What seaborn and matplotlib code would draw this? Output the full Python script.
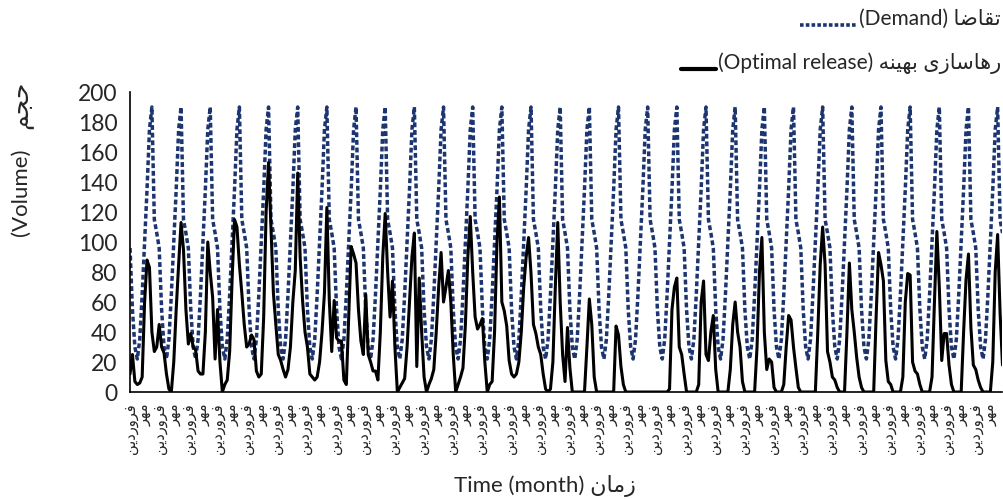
import numpy as np
import pandas as pd
import matplotlib
matplotlib.use("Agg")
import matplotlib.pyplot as plt
import seaborn as sns
from matplotlib.lines import Line2D

sns.set_theme(style="white")
plt.rcParams["font.family"] = ["Lato", "DejaVu Sans"]

# Persian strings are written in visual (shaped, left-to-right) order
FARVARDIN = "\ufee6\ufef3\ufea9\ufead\ufeed\ufeae\ufed3"   # فروردین
MEHR = "\ufeae\ufeec\ufee3"                                  # مهر
HAJM = "\ufee2\ufea0\ufea3"                                  # حجم
ZAMAN = "\ufee5\ufe8e\ufee3\ufeaf"                           # زمان
TAGHAZA = "\ufe8e\ufebf\ufe8e\ufed8\ufe97"                   # تقاضا
RAHASAZI = "\ufeef\ufeaf\ufe8e\ufeb3\ufe8e\ufeeb\ufead"      # رهاسازی
BEHINE = "\ufeea\ufee8\ufef4\ufeec\ufe91"                    # بهینه

# monthly demand, same every year (30 years)
demand_year = [96, 55, 30, 22, 35, 65, 100, 135, 175, 190, 115, 106]
n_years = 30

# optimal release, one list of 12 months per year
release_years = [
    [12, 25, 7, 5, 6, 10, 60, 88, 83, 40, 27, 30],
    [45, 30, 26, 12, 2, 0, 20, 55, 85, 113, 95, 55],
    [32, 39, 30, 28, 14, 12, 12, 40, 100, 80, 63, 22],
    [55, 20, 0, 5, 8, 27, 75, 115, 110, 85, 66, 45],
    [30, 32, 38, 35, 14, 10, 12, 50, 120, 153, 110, 66],
    [45, 25, 21, 15, 10, 15, 30, 60, 81, 146, 90, 61],
    [40, 30, 12, 10, 8, 10, 20, 40, 66, 123, 61, 27],
    [61, 36, 34, 34, 8, 5, 50, 97, 92, 86, 55, 34],
    [25, 65, 25, 20, 14, 14, 8, 40, 90, 119, 80, 50],
    [74, 30, 0, 3, 6, 9, 30, 60, 90, 106, 17, 76],
    [40, 10, 0, 5, 9, 15, 40, 70, 93, 60, 70, 81],
    [60, 25, 0, 5, 10, 16, 45, 90, 117, 80, 50, 42],
    [45, 49, 20, 0, 5, 7, 40, 100, 130, 60, 54, 44],
    [21, 12, 10, 12, 20, 40, 70, 90, 103, 79, 45, 39],
    [30, 25, 12, 2, 0, 2, 20, 70, 113, 60, 25, 7],
    [43, 16, 0, 0, 0, 0, 0, 0, 30, 62, 45, 10],
    [0, 0, 0, 0, 0, 0, 0, 0, 44, 38, 17, 5],
    [0, 0, 0, 0, 0, 0, 0, 0, 0, 0, 0, 0],
    [0, 0, 0, 0, 0, 0, 2, 55, 70, 76, 30, 25],
    [12, 0, 0, 0, 0, 0, 5, 60, 74, 25, 21, 40],
    [51, 15, 0, 0, 0, 0, 0, 15, 45, 60, 40, 30],
    [7, 0, 0, 0, 0, 0, 30, 80, 103, 40, 15, 22],
    [20, 3, 0, 0, 0, 5, 30, 51, 48, 30, 16, 3],
    [0, 0, 0, 0, 0, 0, 0, 40, 85, 110, 85, 27],
    [20, 10, 8, 3, 0, 0, 0, 40, 86, 55, 40, 23],
    [10, 3, 0, 0, 0, 0, 0, 50, 93, 85, 74, 21],
    [7, 5, 0, 0, 0, 0, 10, 60, 79, 78, 20, 14],
    [12, 5, 0, 0, 0, 0, 10, 60, 107, 70, 21, 39],
    [39, 18, 5, 0, 0, 0, 0, 40, 75, 92, 43, 18],
    [15, 8, 3, 0, 0, 0, 0, 20, 80, 105, 53, 18],
]

tick_labels = [FARVARDIN, MEHR]

demand = np.tile(demand_year, n_years)
release = np.concatenate(release_years)
months = np.arange(len(demand))
df = pd.DataFrame({"month": months, "demand": demand, "release": release})

NAVY = "#1c3470"

fig = plt.figure(figsize=(10.04, 4.99), dpi=100)
ax = fig.add_axes([0.1295, 0.2144, 0.869, 0.6012])

sns.lineplot(data=df, x="month", y="demand", ax=ax, color=NAVY, lw=2.5,
             linestyle=(0, (1.4, 0.8)))
sns.lineplot(data=df, x="month", y="release", ax=ax, color="black", lw=2.2)

ax.set_xlim(0, len(months) - 1)
ax.set_ylim(0, 200)
ax.set_yticks(np.arange(0, 201, 20))
ax.tick_params(axis="y", labelsize=16.5, length=0, pad=9)
ax.set_xticks(months[::6])
ax.set_xticklabels([tick_labels[i % 2] for i in range(len(months[::6]))],
                   rotation=90, fontsize=10.5, family=["DejaVu Sans"])
ax.tick_params(axis="x", length=3, width=1, color="black", pad=5, direction="out")
ax.set_xlabel("")
ax.set_ylabel("")
for s in ["top", "right"]:
    ax.spines[s].set_visible(False)
for s in ["left", "bottom"]:
    ax.spines[s].set_color("black")
    ax.spines[s].set_linewidth(1.2)
ax.grid(False)

# axis titles (Persian part drawn a bit larger, as in the original)
fig.text(0.021, 0.615, "(Volume)", rotation=90, ha="center", va="center",
         fontsize=16)
fig.text(0.021, 0.79, HAJM, rotation=90, ha="center", va="center",
         fontsize=18)
fig.text(0.543, 0.026, "Time (month) " + ZAMAN, ha="center", va="center",
         fontsize=16)

# legend drawn by hand, right-to-left: line sample sits left of the text
fig.canvas.draw()
renderer = fig.canvas.get_renderer()
legend_rows = [
    ("(Demand) " + TAGHAZA, NAVY, (0, (1.0, 0.6)), 2.6, 0.962, 57),
    ("(Optimal release) " + BEHINE + " " + RAHASAZI, "black", "-", 3.0, 0.873, 35),
]
for label, col, ls, lw, ypos, sample_px in legend_rows:
    t = fig.text(0.997, ypos, label, ha="right", va="center", fontsize=15)
    bb = t.get_window_extent(renderer).transformed(fig.transFigure.inverted())
    x1 = bb.x0 - 0.002
    x0 = x1 - sample_px / fig.bbox.width
    yl = ypos - 0.012
    fig.add_artist(Line2D([x0, x1], [yl, yl], color=col, lw=lw, linestyle=ls,
                          transform=fig.transFigure))

fig.savefig("out.png", dpi=100)
